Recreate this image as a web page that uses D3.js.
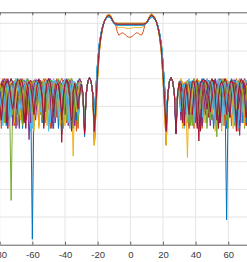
<!DOCTYPE html>
<html>
<head>
<meta charset="utf-8">
<script src="https://cdn.jsdelivr.net/npm/d3@7"></script>
<style>
  body { margin: 0; background: #fff; }
  svg { display: block; }
</style>
</head>
<body>
<svg></svg>
<script>
'use strict';

const svgWidth = 247;
const svgHeight = 262;

// sample angles (deg) for the three parts of every trace
const leftAngles = [-84, -83, -82, -81, -80, -79, -78, -77, -76, -75, -74, -73, -72, -71, -70,
  -69, -68, -67, -66, -65, -64, -63, -62, -61, -60, -59, -58, -57, -56, -55, -54, -53, -52,
  -51, -50, -49, -48, -47, -46, -45, -44, -43, -42, -41, -40, -39, -38, -37, -36, -35, -34,
  -33, -32, -31, -30, -29, -28, -27, -26, -25, -24, -23];
const mainAngles = [-22, -21, -20, -19, -18, -17, -16, -15, -14, -13, -12, -11, -10, -9, -8,
  -7, -6, -5, -4, -3, -2, -1, 0, 1, 2, 3, 4, 5, 6, 7, 8, 9, 10, 11, 12, 13, 14, 15, 16, 17,
  18, 19, 20, 21, 22];
const rightAngles = [23, 24, 25, 26, 27, 28, 29, 30, 31, 32, 33, 34, 35, 36, 37, 38, 39, 40,
  41, 42, 43, 44, 45, 46, 47, 48, 49, 50, 51, 52, 53, 54, 55, 56, 57, 58, 59, 60, 61, 62, 63,
  64, 65, 66, 67, 68, 69, 70, 71, 72, 73, 74, 75, 76, 77, 78];

const xTicks = [-80, -60, -40, -20, 0, 20, 40, 60, 80];
const yGrid = [0, -10, -20, -30, -40, -50, -60, -70];

const lineColors = ['#0072BD', '#D95319', '#EDB120', '#7E2F8E', '#77AC30', '#4DBEEE', '#A2142F'];

// main lobe (dB) over mainAngles
const mainA = [-39, -28, -17, -9, -4.5, -1.5, 0.5, 1.8, 2.6, 2.9, 2.4, 1.2, 0.2, -0.2,
  -0.3, -0.3, -0.3, -0.3, -0.3, -0.3, -0.3, -0.3, -0.3, -0.3, -0.3, -0.3, -0.3, -0.3, -0.3, -0.3, -0.3,
  -0.2, 0.2, 1.2, 2.4, 2.9, 2.6, 1.8, 0.5, -1.5, -4.5, -9, -17, -28, -39];
const mainB = [-44, -31, -19.5, -10.5, -5.3, -1.9, 0.5, 2.0, 3.0, 3.3, 2.8, 1.5, 0.4, 0.1,
  0, 0, 0, 0, 0, 0, 0, 0, 0, 0, 0, 0, 0, 0, 0, 0, 0,
  0.1, 0.4, 1.5, 2.8, 3.3, 3.0, 2.0, 0.5, -1.9, -5.3, -10.5, -19.5, -31, -44];
const mainC = [-33, -23, -14, -7.5, -3.8, -1.1, 0.5, 1.5, 2.1, 2.3, 1.9, 0.9, 0.0, -0.5,
  -0.6, -0.6, -0.6, -0.6, -0.6, -0.6, -0.6, -0.6, -0.6, -0.6, -0.6, -0.6, -0.6, -0.6, -0.6, -0.6, -0.6,
  -0.5, 0.0, 0.9, 1.9, 2.3, 2.1, 1.5, 0.5, -1.1, -3.8, -7.5, -14, -23, -33];
const mainRipple = [-40, -28.5, -17.5, -9.2, -4.6, -1.5, 0.5, 1.9, 2.7, 3.0, 2.5, 1.3, 0.2, -0.4,
  -3.0, -4.3, -3.8, -3.4, -3.6, -4.2, -4.7, -5.0, -5.0, -4.8, -4.3, -3.7, -3.4, -3.6, -4.1, -4.2, -2.8,
  -0.4, 0.2, 1.3, 2.5, 3.0, 2.7, 1.9, 0.5, -1.5, -4.6, -9.2, -17.5, -28.5, -40];
const mainDip = [-38, -27, -16.5, -8.8, -4.4, -1.4, 0.5, 1.7, 2.5, 2.7, 2.2, 1.0, 0.0, -0.6,
  -1.3, -1.6, -1.5, -1.4, -1.5, -1.7, -1.8, -1.8, -1.8, -1.7, -1.5, -1.4, -1.5, -1.6, -1.5, -1.4, -1.2,
  -0.5, 0.0, 1.0, 2.2, 2.7, 2.5, 1.7, 0.5, -1.4, -4.4, -8.8, -16.5, -27, -38];

// left sidelobes (dB), last value sits at -23 deg
const sideLeft = [
  [-34, -26, -22, -22, -26, -37, -26, -21.5, -20, -21.5, -26, -33, -26, -22, -22, -26, -35, -25.5, -21.5, -21.5, -25.5, -78, -27, -22.5, -21, -22.5, -27, -36, -25, -21, -21, -25, -32, -26, -22, -22, -26, -38, -25.5, -21.5, -21.5, -25.5, -34, -26, -21.5, -20, -21.5, -26, -31, -26, -22, -22, -26, -37, -25.5, -21, -19.7, -21, -25.5],
  [-32, -26, -21.5, -20, -21.5, -26, -35, -27, -22.5, -21, -22.5, -27, -30, -26, -21.5, -20, -21.5, -26, -33, -27.5, -23, -21, -21, -23, -27.5, -37, -26, -21.5, -20, -21.5, -26, -31, -26, -22, -22, -26, -34, -25.8, -21.3, -19.8, -21.3, -25.8, -36, -25.5, -21.5, -21.5, -25.5, -30, -26, -21.5, -20, -21.5, -26, -40, -25.5, -21, -19.6, -21, -25.5],
  [-27, -33, -27, -22.5, -21, -22.5, -27, -31, -26.5, -22, -20.5, -22, -26.5, -36, -27, -22.5, -21, -22.5, -27, -34, -25, -21, -21, -25, -32, -27.5, -23, -21.5, -23, -27.5, -37, -25.5, -21.5, -21.5, -25.5, -33, -27, -22.5, -21, -22.5, -27, -35, -25, -21, -21, -25, -48, -27.5, -23, -21, -21, -23, -27.5, -36, -25.5, -21, -19.8, -21, -25.5],
  [-26, -35, -26, -21.5, -20, -21.5, -26, -32, -27, -22.5, -21, -22.5, -27, -38, -26.5, -22, -20.5, -22, -26.5, -42, -27, -22.5, -20.5, -20.5, -22.5, -27, -33, -27, -22.5, -21, -22.5, -27, -36, -25, -21, -21, -25, -31, -26.5, -22, -20.5, -22, -26.5, -37, -26, -22, -22, -26, -34, -25, -21, -21, -25, -38, -25.5, -21, -19.6, -21, -25.5],
  [-24, -26, -34, -26.5, -22, -20.5, -22, -26.5, -64, -26, -21.5, -20, -21.5, -26, -31, -27, -22.5, -21, -22.5, -27, -36, -26.5, -22, -20.5, -22, -26.5, -33, -25, -21, -21, -25, -38, -27, -22.5, -21, -22.5, -27, -32, -25.5, -21.5, -21.5, -25.5, -35, -26, -21.5, -20, -21.5, -26, -37, -26, -22, -22, -26, -35, -25.5, -21, -19.7, -21, -25.5],
  [-31, -25, -21.5, -25, -34, -25, -21, -21, -25, -36, -26.5, -22, -20.5, -22, -26.5, -32, -26, -22, -22, -26, -39, -27, -22.5, -20.5, -20.5, -22.5, -27, -33, -27, -22.5, -21, -22.5, -27, -37, -25.5, -21.5, -21.5, -25.5, -34, -26, -21.5, -20, -21.5, -26, -31, -26, -22, -22, -26, -36, -26, -22.5, -26, -39, -25.5, -21, -19.8, -21, -25.5],
  [-27, -32, -25.5, -21.5, -21.5, -25.5, -38, -27, -22.5, -21, -22.5, -27, -33, -25, -21, -21, -25, -35, -26.5, -22, -20.5, -22, -26.5, -31, -26, -22, -22, -26, -37, -26, -21.5, -20, -21.5, -26, -34, -26, -22, -22, -26, -43, -25.5, -21.5, -21.5, -25.5, -33, -25.5, -22, -25.5, -30, -26, -22, -22, -26, -37, -25.5, -21, -19.7, -21, -25.5],
  [-24, -27, -33, -28, -23.5, -21.5, -21.5, -23.5, -28, -35, -26, -21.5, -20, -21.5, -26, -37, -27.5, -23, -21, -21, -23, -27.5, -32, -27, -22.5, -21, -22.5, -27, -34, -26, -21.5, -20, -21.5, -26, -38, -26.5, -22, -20.5, -22, -26.5, -31, -27, -22.5, -21, -22.5, -27, -36, -27, -22.5, -20.5, -20.5, -22.5, -27, -41, -25.5, -21, -19.6, -21, -25.5],
  [-35, -25, -21, -21, -25, -31, -26, -22, -22, -26, -37, -26.5, -22, -20.5, -22, -26.5, -33, -25, -21, -21, -25, -36, -26, -22, -22, -26, -31, -26, -21.5, -20, -21.5, -26, -38, -27, -22.5, -21, -22.5, -27, -34, -25.5, -21.5, -21.5, -25.5, -32, -25, -21, -21, -25, -39, -26, -22, -22, -26, -36, -25.5, -21, -19.8, -21, -25.5],
  [-22, -23.5, -28, -36, -26, -22, -22, -26, -32, -26, -21.5, -20, -21.5, -26, -35, -25.5, -21.5, -21.5, -25.5, -31, -27, -22.5, -21, -22.5, -27, -38, -25, -21, -21, -25, -34, -26.5, -22, -20.5, -22, -26.5, -30, -26, -22, -22, -26, -37, -26, -21.5, -20, -21.5, -26, -33, -26.5, -22, -20.5, -22, -26.5, -38, -25.5, -21, -19.7, -21, -25.5],
  [-36, -26.5, -22, -20.5, -22, -26.5, -33, -26, -22, -22, -26, -38, -26, -21.5, -20, -21.5, -26, -31, -27, -22.5, -21, -22.5, -27, -35, -26.5, -22, -20.5, -22, -26.5, -32, -26, -21.5, -20, -21.5, -26, -36, -27, -22.5, -21, -22.5, -27, -33, -26.5, -22, -20.5, -22, -26.5, -37, -26, -21.5, -20, -21.5, -26, -39, -25.5, -21, -19.6, -21, -25.5],
  [-25, -30, -27, -22.5, -21, -22.5, -27, -34, -25, -21, -21, -25, -37, -26.5, -22, -20.5, -22, -26.5, -33, -27, -22.5, -21, -22.5, -27, -30, -25, -21, -21, -25, -36, -26.5, -22, -20.5, -22, -26.5, -34, -26, -22, -22, -26, -31, -26, -21.5, -20, -21.5, -26, -38, -28, -23.5, -21.5, -21.5, -23.5, -28, -34, -25.5, -21, -19.7, -21, -25.5],
  [-23, -26, -31, -25.5, -21.5, -21.5, -25.5, -37, -27, -22.5, -21, -22.5, -27, -33, -27, -22.5, -20.5, -20.5, -22.5, -27, -35, -27, -22.5, -21, -22.5, -27, -32, -25.5, -21.5, -21.5, -25.5, -39, -26, -21.5, -20, -21.5, -26, -33, -27, -22.5, -21, -22.5, -27, -36, -25, -21, -21, -25, -31, -25.5, -21.5, -21.5, -25.5, -37, -25.5, -21, -19.8, -21, -25.5],
  [-33, -26, -22, -22, -26, -36, -26, -21.5, -20, -21.5, -26, -31, -26.5, -22, -20.5, -22, -26.5, -38, -26, -22, -22, -26, -34, -26, -21.5, -20, -21.5, -26, -32, -26, -22, -22, -26, -36, -26.5, -22, -20.5, -22, -26.5, -40, -25, -21, -21, -25, -33, -26, -22, -22, -26, -35, -26, -22.5, -26, -38, -25.5, -21, -19.7, -21, -25.5],
  [-22.5, -24, -28, -35, -26.5, -22, -20.5, -22, -26.5, -33, -27, -22.5, -21, -22.5, -27, -38, -26, -21.5, -20, -21.5, -26, -31, -27.5, -23, -21, -21, -23, -27.5, -36, -26, -21.5, -20, -21.5, -26, -34, -26, -22, -22, -26, -39, -25.5, -21.5, -21.5, -25.5, -32, -25.5, -22, -25.5, -35, -26, -22, -22, -26, -37, -25.5, -21, -19.7, -21, -25.5],
  [-25, -28, -38, -26, -21.5, -20, -21.5, -26, -32, -28, -23.5, -21.5, -21.5, -23.5, -28, -35, -27, -22.5, -20.5, -20.5, -22.5, -27, -37, -26.5, -22, -20.5, -22, -26.5, -31, -26, -22, -22, -26, -34, -26, -21.5, -20, -21.5, -26, -36, -25.5, -21.5, -21.5, -25.5, -33, -26, -22, -22, -26, -38, -26, -22.5, -26, -36, -25.5, -21, -19.8, -21, -25.5],
  [-21.5, -22, -23.5, -27, -32, -27, -22.5, -21, -22.5, -27, -36, -26, -21.5, -20, -21.5, -26, -33, -26.5, -22, -20.5, -22, -26.5, -39, -26, -22, -22, -26, -34, -26, -21.5, -20, -21.5, -26, -31, -25.5, -21.5, -21.5, -25.5, -37, -27, -22.5, -21, -22.5, -27, -35, -25, -21.5, -25, -32, -25.5, -21.5, -21.5, -25.5, -38, -25.5, -21, -19.7, -21, -25.5],
  [-23, -25, -29, -34, -26, -21.5, -20, -21.5, -26, -37, -25.5, -21.5, -21.5, -25.5, -31, -27, -22.5, -21, -22.5, -27, -36, -27, -22.5, -20.5, -20.5, -22.5, -27, -33, -26.5, -22, -20.5, -22, -26.5, -38, -27, -22.5, -21, -22.5, -27, -32, -26, -21.5, -20, -21.5, -26, -35, -25.5, -22, -25.5, -30, -25.5, -22, -25.5, -39, -25.5, -21, -19.6, -21, -25.5],
  [-22, -23, -25, -28.5, -36, -25.5, -21.5, -21.5, -25.5, -33, -27, -22.5, -21, -22.5, -27, -37, -26, -21.5, -20, -21.5, -26, -32, -27, -22.5, -21, -22.5, -27, -35, -27.5, -23, -21, -21, -23, -27.5, -31, -26, -21.5, -20, -21.5, -26, -38, -26, -22, -22, -26, -34, -25, -21.5, -25, -36, -26, -22.5, -26, -35, -25.5, -21, -19.7, -21, -25.5],
  [-24, -26.5, -30, -37, -26, -22, -22, -26, -34, -26, -21.5, -20, -21.5, -26, -31, -27.5, -23, -21, -21, -23, -27.5, -38, -27, -22.5, -21, -22.5, -27, -33, -25, -21, -21, -25, -36, -26.5, -22, -20.5, -22, -26.5, -32, -27, -22.5, -21, -22.5, -27, -38, -25, -21, -21, -25, -33, -25.5, -22, -25.5, -37, -25.5, -21, -19.8, -21, -25.5],
  [-26, -30, -35, -27.5, -23, -21, -21, -23, -27.5, -31, -27, -22.5, -20.5, -20.5, -22.5, -27, -36, -27, -22.5, -21, -22.5, -27, -33, -26.5, -22, -20.5, -22, -26.5, -38, -26, -21.5, -20, -21.5, -26, -32, -26, -22, -22, -26, -35, -26.5, -22, -20.5, -22, -26.5, -39, -25, -21.5, -25, -31, -25.5, -22, -25.5, -40, -25.5, -21, -19.7, -21, -25.5]
];

// right sidelobes (dB), first value sits at 23 deg
const sideRight = [
  [-25.5, -21, -19.7, -21, -25.5, -38, -25.5, -21.5, -21.5, -25.5, -34, -26, -22, -22, -26, -31, -25, -21, -21, -25, -36, -25.5, -21.5, -21.5, -25.5, -33, -27, -22.5, -21, -22.5, -27, -37, -25, -21, -21, -25, -71, -26, -22, -22, -26, -33, -25.5, -21.5, -21.5, -25.5, -36, -25, -21, -21, -25, -32, -25],
  [-25.5, -21, -19.6, -21, -25.5, -36, -25, -21, -21, -25, -32, -27, -22.5, -21, -22.5, -27, -38, -25.5, -21.5, -21.5, -25.5, -31, -26, -21.5, -20, -21.5, -26, -35, -27, -22.5, -21, -22.5, -27, -33, -26.5, -22, -20.5, -22, -26.5, -37, -26, -21.5, -20, -21.5, -26, -34, -27, -22.5, -21, -22.5, -27, -30, -26],
  [-25.5, -21, -19.8, -21, -25.5, -37, -27.5, -23, -21, -21, -23, -27.5, -48.5, -25, -21, -21, -25, -33, -27, -22.5, -21, -22.5, -27, -36, -25.5, -21.5, -21.5, -25.5, -31, -26, -21.5, -20, -21.5, -26, -34, -27, -22.5, -21, -22.5, -27, -38, -26.5, -22, -20.5, -22, -26.5, -32, -26, -21.5, -20, -21.5, -26, -35],
  [-25.5, -21, -19.6, -21, -25.5, -39, -26, -22, -22, -26, -33, -25, -21, -21, -25, -36, -26.5, -22, -20.5, -22, -26.5, -32, -26, -22, -22, -26, -37, -26, -21.5, -20, -21.5, -26, -34, -26.5, -22, -20.5, -22, -26.5, -31, -27, -22.5, -21, -22.5, -27, -36, -26, -21.5, -20, -21.5, -26, -33, -26, -21.5],
  [-25.5, -21, -19.7, -21, -25.5, -35, -25.5, -22, -25.5, -31, -25, -21, -21, -25, -37, -25.5, -21.5, -21.5, -25.5, -33, -26, -22, -22, -26, -36, -26, -21.5, -20, -21.5, -26, -41, -25.5, -21.5, -21.5, -25.5, -32, -27, -22.5, -21, -22.5, -27, -35, -26, -21.5, -20, -21.5, -26, -38, -26.5, -22, -20.5, -22, -26.5],
  [-25.5, -21, -19.8, -21, -25.5, -36, -25.5, -21.5, -21.5, -25.5, -38, -26, -21.5, -20, -21.5, -26, -32, -27, -22.5, -21, -22.5, -27, -35, -26.5, -22, -20.5, -22, -26.5, -31, -26, -21.5, -20, -21.5, -26, -37, -27, -22.5, -21, -22.5, -27, -33, -25, -21, -21, -25, -36, -26.5, -22, -20.5, -22, -26.5, -31, -25],
  [-25.5, -21, -19.7, -21, -25.5, -37, -25.5, -22, -25.5, -33, -25.5, -21.5, -21.5, -25.5, -30, -26, -22, -22, -26, -42.5, -26, -21.5, -20, -21.5, -26, -34, -26.5, -22, -20.5, -22, -26.5, -38, -27, -22.5, -21, -22.5, -27, -32, -25, -21, -21, -25, -35, -26.5, -22, -20.5, -22, -26.5, -37, -26, -22, -22, -26],
  [-25.5, -21, -19.6, -21, -25.5, -40, -26.5, -22, -20.5, -22, -26.5, -33, -27, -22.5, -21, -22.5, -27, -36, -25, -21, -21, -25, -31, -26.5, -22, -20.5, -22, -26.5, -38, -26, -22, -22, -26, -34, -25, -21, -21, -25, -32, -26.5, -22, -20.5, -22, -26.5, -37, -26, -22, -22, -26, -33, -25, -21, -20],
  [-25.5, -21, -19.8, -21, -25.5, -37, -26, -22, -22, -26, -30, -25.5, -21.5, -21.5, -25.5, -35, -26, -21.5, -20, -21.5, -26, -38, -27, -22.5, -21, -22.5, -27, -32, -25.5, -21.5, -21.5, -25.5, -36, -26, -21.5, -20, -21.5, -26, -34, -26, -22, -22, -26, -39, -26.5, -22, -20.5, -22, -26.5, -31, -25, -21, -20.5],
  [-25.5, -21, -19.7, -21, -25.5, -34, -26, -21.5, -20, -21.5, -26, -37, -26, -22, -22, -26, -32, -26.5, -22, -20.5, -22, -26.5, -36, -25, -21, -21, -25, -33, -27, -22.5, -21, -22.5, -27, -39, -26, -21.5, -20, -21.5, -26, -31, -25.5, -21.5, -21.5, -25.5, -35, -27, -22.5, -21, -22.5, -27, -33, -25.5, -21.5],
  [-25.5, -21, -19.6, -21, -25.5, -38, -25, -21, -21, -25, -35, -27, -22.5, -21, -22.5, -27, -31, -25.5, -21.5, -21.5, -25.5, -37, -25, -21, -21, -25, -33, -26.5, -22, -20.5, -22, -26.5, -36, -26, -22, -22, -26, -32, -27, -22.5, -20.5, -20.5, -22.5, -27, -40.5, -25.5, -21.5, -21.5, -25.5, -34, -26, -21.5, -20.5],
  [-25.5, -21, -19.7, -21, -25.5, -36, -25, -21.5, -25, -34, -26.5, -22, -20.5, -22, -26.5, -37, -25, -21, -21, -25, -31, -27, -22.5, -21, -22.5, -27, -35, -25.5, -21.5, -21.5, -25.5, -33, -26, -21.5, -20, -21.5, -26, -38, -27, -22.5, -21, -22.5, -27, -32, -25.5, -21.5, -21.5, -25.5, -36, -25, -21, -21, -25],
  [-25.5, -21, -19.8, -21, -25.5, -39, -27, -22.5, -21, -22.5, -27, -32, -25, -21, -21, -25, -36, -25.5, -21.5, -21.5, -25.5, -34, -26, -21.5, -20, -21.5, -26, -31, -27, -22.5, -21, -22.5, -27, -37, -25.5, -21.5, -21.5, -25.5, -33, -25, -21, -21, -25, -38, -26, -22, -22, -26, -35, -25.5, -21.5, -21.5, -25.5],
  [-25.5, -21, -19.7, -21, -25.5, -35, -25.5, -21.5, -21.5, -25.5, -37, -26, -22, -22, -26, -33, -25, -21, -21, -25, -39, -26.5, -22, -20.5, -22, -26.5, -32, -27, -22.5, -21, -22.5, -27, -36, -26, -21.5, -20, -21.5, -26, -34, -25.5, -21.5, -21.5, -25.5, -31, -27, -22.5, -21, -22.5, -27, -37, -25, -21, -20.5],
  [-25.5, -21, -19.7, -21, -25.5, -36, -25.5, -22, -25.5, -33, -25, -21.5, -25, -37, -25.5, -21.5, -21.5, -25.5, -31, -26, -21.5, -20, -21.5, -26, -35, -27, -22.5, -21, -22.5, -27, -32, -26.5, -22, -20.5, -22, -26.5, -38, -26, -21.5, -20, -21.5, -26, -34, -27, -22.5, -21, -22.5, -27, -36, -26.5, -22, -20.5, -22],
  [-25.5, -21, -19.8, -21, -25.5, -37, -24.5, -24.5, -33, -25.5, -21.5, -21.5, -25.5, -38, -26, -21.5, -20, -21.5, -26, -32, -26, -22, -22, -26, -35, -26.5, -22, -20.5, -22, -26.5, -31, -25, -21, -21, -25, -37, -27, -22.5, -21, -22.5, -27, -33, -26.5, -22, -20.5, -22, -26.5, -36, -26, -21.5, -20, -21.5, -26],
  [-25.5, -21, -19.7, -21, -25.5, -34, -25, -21.5, -25, -38, -25, -21, -21, -25, -32, -25, -21.5, -25, -36, -26.5, -22, -20.5, -22, -26.5, -33, -26, -22, -22, -26, -39, -27, -22.5, -20.5, -20.5, -22.5, -27, -34, -26.5, -22, -20.5, -22, -26.5, -31, -26, -22, -22, -26, -37, -26, -21.5, -20, -21.5, -26],
  [-25.5, -21, -19.6, -21, -25.5, -39, -24.5, -24.5, -35, -26, -22, -22, -26, -31, -25, -21, -21, -25, -37, -25.5, -21.5, -21.5, -25.5, -33, -27, -22.5, -21, -22.5, -27, -36, -26, -21.5, -20, -21.5, -26, -32, -27.5, -23, -21, -21, -23, -27.5, -38, -27, -22.5, -21, -22.5, -27, -34, -26, -21.5, -20, -21.5],
  [-25.5, -21, -19.7, -21, -25.5, -35, -26, -22.5, -26, -31, -25, -21.5, -25, -36, -26, -21.5, -20, -21.5, -26, -33, -25.5, -21.5, -21.5, -25.5, -38, -27, -22.5, -21, -22.5, -27, -32, -26, -21.5, -20, -21.5, -26, -35, -25.5, -21.5, -21.5, -25.5, -37, -27, -22.5, -21, -22.5, -27, -31, -26, -21.5, -20, -21.5, -26],
  [-25.5, -21, -19.8, -21, -25.5, -38, -24.5, -24.5, -32, -25.5, -22, -25.5, -36, -26.5, -22, -20.5, -22, -26.5, -34, -27, -22.5, -21, -22.5, -27, -31, -25, -21, -21, -25, -37, -26.5, -22, -20.5, -22, -26.5, -33, -27, -22.5, -21, -22.5, -27, -36, -27, -22.5, -20.5, -20.5, -22.5, -27, -32, -26, -22, -22, -26],
  [-25.5, -21, -19.7, -21, -25.5, -40, -25, -21.5, -25, -36, -25.5, -22, -25.5, -33, -25, -21, -21, -25, -38, -26.5, -22, -20.5, -22, -26.5, -31, -26, -21.5, -20, -21.5, -26, -35, -27, -22.5, -21, -22.5, -27, -33, -26.5, -22, -20.5, -22, -26.5, -39, -26, -21.5, -20, -21.5, -26, -34, -26, -22, -22, -26]
];

// which main lobe each trace uses
const mainOf = [mainC, mainRipple, mainDip, mainA, mainA, mainC, mainA,
  mainC, mainB, mainB, mainA, mainA, mainC, mainA,
  mainC, mainB, mainB, mainA, mainA, mainC, mainA];

const svg = d3.select('svg')
  .attr('width', svgWidth)
  .attr('height', svgHeight);

const x = d3.scaleLinear().domain([-80, 80]).range([-0.3, 260.9]);
const y = d3.scaleLinear().domain([-80, 4]).range([244.7, 12.3]);

// put the three parts of each trace together
const series = sideLeft.map((left, i) => {
  let pts = [];
  let off = leftAngles.length - left.length;
  left.forEach((v, j) => pts.push([leftAngles[off + j], v]));
  mainOf[i].forEach((v, j) => pts.push([mainAngles[j], v]));
  sideRight[i].forEach((v, j) => pts.push([rightAngles[j], v]));
  return { color: lineColors[i % lineColors.length], points: pts };
});

svg.append('defs').append('clipPath')
  .attr('id', 'plotClip')
  .append('rect')
  .attr('x', x(-80))
  .attr('y', y(4))
  .attr('width', x(80) - x(-80))
  .attr('height', y(-80) - y(4));

let gridG = svg.append('g')
  .attr('stroke', '#e4e4e4')
  .attr('stroke-width', 1);

gridG.selectAll('line.gx')
  .data(xTicks)
  .join('line')
  .attr('class', 'gx')
  .attr('x1', d => x(d)).attr('x2', d => x(d))
  .attr('y1', y(4)).attr('y2', y(-80));

gridG.selectAll('line.gy')
  .data(yGrid)
  .join('line')
  .attr('class', 'gy')
  .attr('x1', x(-80)).attr('x2', x(80))
  .attr('y1', d => y(d)).attr('y2', d => y(d));

let line = d3.line()
  .x(d => x(d[0]))
  .y(d => y(d[1]));

svg.append('g')
  .attr('clip-path', 'url(#plotClip)')
  .attr('fill', 'none')
  .attr('stroke-width', 1)
  .attr('stroke-linejoin', 'round')
  .selectAll('path')
  .data(series)
  .join('path')
  .attr('stroke', d => d.color)
  .attr('d', d => line(d.points));

const axisColor = '#3a3a3a';

svg.append('g')
  .attr('transform', `translate(0,${y(-80)})`)
  .call(d3.axisBottom(x).tickValues(xTicks).tickSizeInner(-3).tickSizeOuter(0)
    .tickPadding(7).tickFormat(d => String(d)))
  .call(g => g.select('.domain').attr('stroke', axisColor).attr('stroke-width', 0.8))
  .call(g => g.selectAll('.tick line').attr('stroke', axisColor).attr('stroke-width', 0.8))
  .call(g => g.selectAll('.tick text')
    .attr('fill', '#3a3a3a')
    .attr('font-size', 9.5)
    .attr('font-family', '"Liberation Sans", Arial, Helvetica, sans-serif'));

svg.append('g')
  .attr('transform', `translate(0,${y(4)})`)
  .call(d3.axisTop(x).tickValues(xTicks).tickSizeInner(-3).tickSizeOuter(0).tickFormat(''))
  .call(g => g.select('.domain').attr('stroke', axisColor).attr('stroke-width', 0.8))
  .call(g => g.selectAll('.tick line').attr('stroke', axisColor).attr('stroke-width', 0.8));
</script>
</body>
</html>
